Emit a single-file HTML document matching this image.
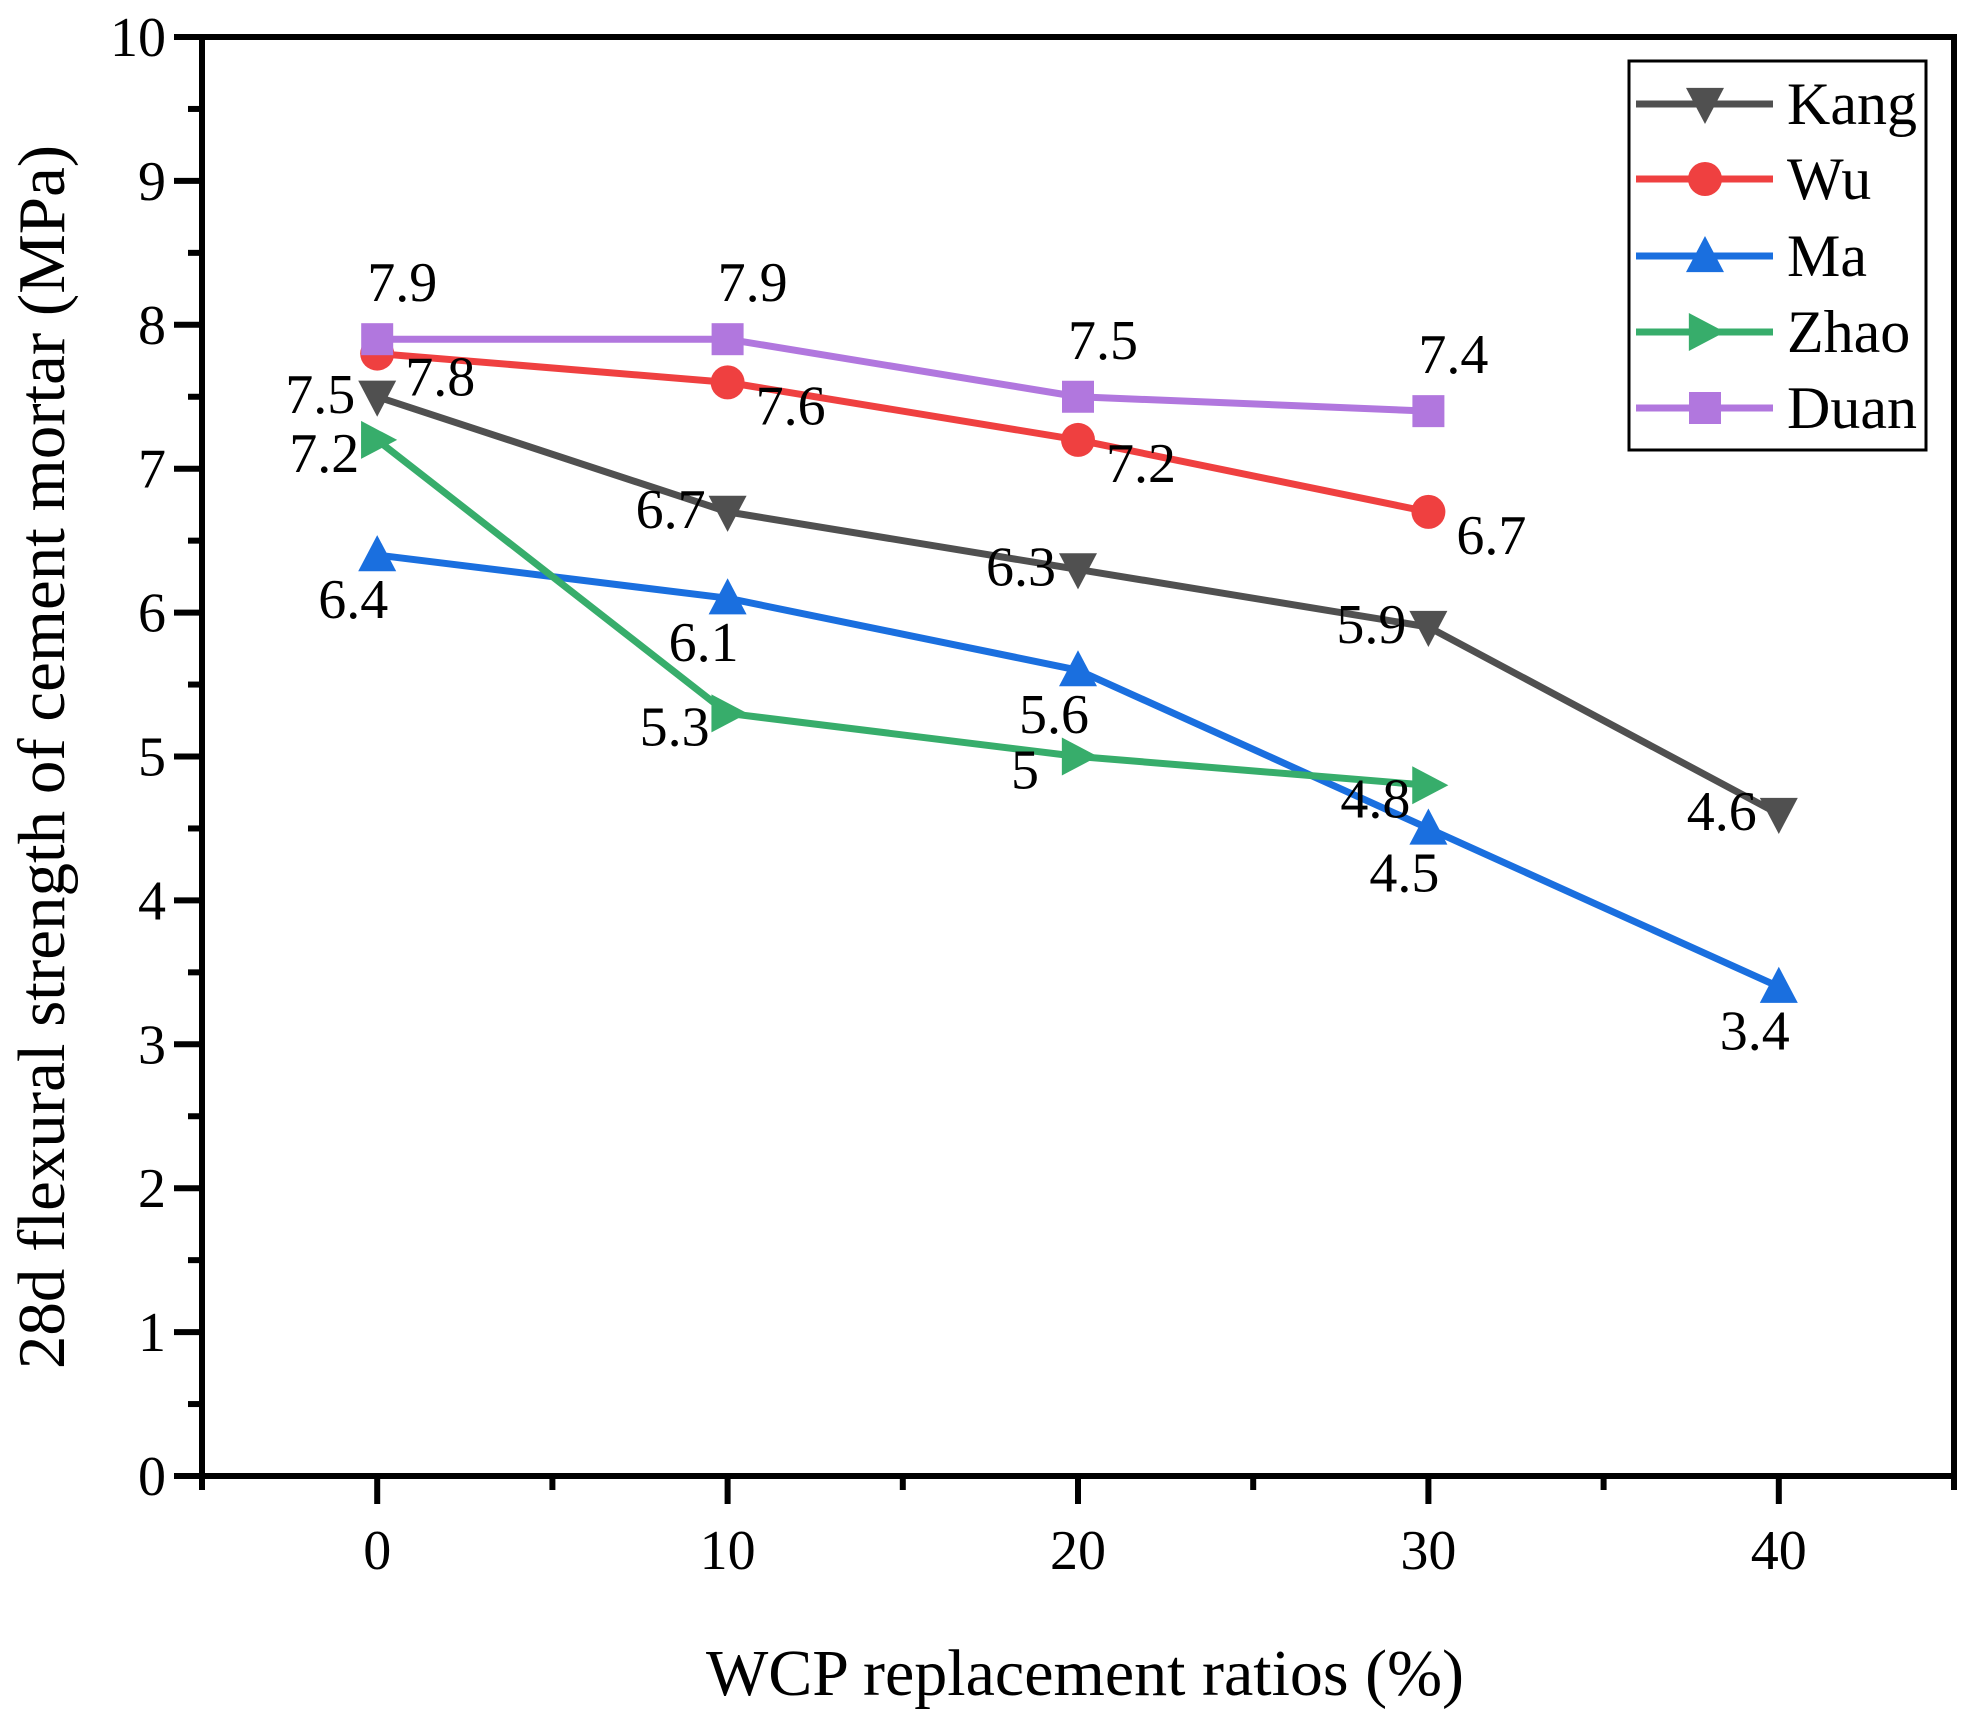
<!DOCTYPE html>
<html><head><meta charset="utf-8"><style>
html,body{margin:0;padding:0;background:#fff}
svg{display:block;font-family:"Liberation Serif",serif}
</style></head><body>
<svg id="chart" width="1977" height="1717" viewBox="0 0 1977 1717">
<g id="axes"></g>
<g id="series"></g>
<g id="legend"></g>
<text x="1085" y="1695" font-size="66" text-anchor="middle">WCP replacement ratios (%)</text>
<text transform="translate(64,757) rotate(-90)" font-size="67" text-anchor="middle">28d flexural strength of cement mortar (MPa)</text>
</svg>
<script>
const seriesNames = ["Kang","Wu","Ma","Zhao","Duan"];
const kangX = [0,10,20,30,40];
const kangY = [7.5,6.7,6.3,5.9,4.6];
const wuX = [0,10,20,30];
const wuY = [7.8,7.6,7.2,6.7];
const maX = [0,10,20,30,40];
const maY = [6.4,6.1,5.6,4.5,3.4];
const zhaoX = [0,10,20,30];
const zhaoY = [7.2,5.3,5.0,4.8];
const duanX = [0,10,20,30];
const duanY = [7.9,7.9,7.5,7.4];
const xTicks = [0,10,20,30,40];
const yTicks = [0,1,2,3,4,5,6,7,8,9,10];

const NS="http://www.w3.org/2000/svg";
const L=202,R=1954,T=37,B=1476;
const xmin=-5,xmax=45,ymin=0,ymax=10;
const sx=v=>L+(v-xmin)/(xmax-xmin)*(R-L);
const sy=v=>B-(v-ymin)/(ymax-ymin)*(B-T);
function mk(tag,attrs,parent){const e=document.createElementNS(NS,tag);for(const k in attrs)e.setAttribute(k,attrs[k]);parent.appendChild(e);return e;}
const axes=document.getElementById('axes');
for(let v=0;v<=10;v+=0.5){
  const major=Number.isInteger(v);
  const t=mk('line',{x1:L-(major?28:14),x2:L,y1:sy(v),y2:sy(v),stroke:'#000','stroke-width':6},axes);
  
  
}
yTicks.forEach(v=>{
  const t=mk('text',{x:L-36,y:sy(v)+19,'font-size':56,'text-anchor':'end'},axes);t.textContent=v;
  
  
});
for(let v=-5;v<=45;v+=5){
  const major=v%10===0;
  const t=mk('line',{x1:sx(v),x2:sx(v),y1:B,y2:B+(major?28:14),stroke:'#000','stroke-width':6},axes);
  
  
}
xTicks.forEach(v=>{
  const t=mk('text',{x:sx(v),y:B+93,'font-size':56,'text-anchor':'middle'},axes);t.textContent=v;
  
  
});
const frame=mk('rect',{x:L,y:T,width:R-L,height:B-T,fill:'none',stroke:'#000','stroke-width':6},axes);



function marker(type,cx,cy,color,parent){
  const s=19;
  if(type==='down') return mk('polygon',{points:`${cx-s},${cy-s*0.85} ${cx+s},${cy-s*0.85} ${cx},${cy+s*1.05}`,fill:color},parent);
  if(type==='up') return mk('polygon',{points:`${cx-s},${cy+s*0.85} ${cx+s},${cy+s*0.85} ${cx},${cy-s*1.05}`,fill:color},parent);
  if(type==='right') return mk('polygon',{points:`${cx-s*0.85},${cy-s} ${cx-s*0.85},${cy+s} ${cx+s*1.05},${cy}`,fill:color},parent);
  if(type==='circle') return mk('circle',{cx,cy,r:17,fill:color},parent);
  return mk('rect',{x:cx-16,y:cy-16,width:32,height:32,fill:color},parent);
}
const defs=[
  {name:'kang',xs:kangX,ys:kangY,color:'#505050',m:'down',dx:-57,dy:-3},
  {name:'wu',xs:wuX,ys:wuY,color:'#EF4040',m:'circle',dx:63,dy:23},
  {name:'ma',xs:maX,ys:maY,color:'#1A6FDF',m:'up',dx:-24,dy:44},
  {name:'zhao',xs:zhaoX,ys:zhaoY,color:'#37AD6B',m:'right',dx:-53,dy:13},
  {name:'duan',xs:duanX,ys:duanY,color:'#B177DE',m:'square',dx:25,dy:-57}
];
const sg=document.getElementById('series');
defs.forEach(d=>{
  const g=mk('g',{},sg);
  
  
  const pts=d.xs.map((x,i)=>sx(x)+','+sy(d.ys[i])).join(' ');
  const pl=mk('polyline',{points:pts,fill:'none',stroke:d.color,'stroke-width':7,'stroke-linejoin':'round'},g);
  
  
  d.xs.forEach((x,i)=>{
    const m=marker(d.m,sx(x),sy(d.ys[i]),d.color,g);
    
    
  });
});
defs.forEach(d=>{
  d.xs.forEach((x,i)=>{
    const t=mk('text',{x:sx(x)+d.dx,y:sy(d.ys[i])+d.dy+19,'font-size':56,'text-anchor':'middle'},sg);
    t.textContent=String(d.ys[i]);
    
    
  });
});
const lg=document.getElementById('legend');
const box=mk('rect',{x:1629,y:61,width:297,height:389,fill:'#fff',stroke:'#000','stroke-width':3},lg);


const legY=[104,179,256,332,408];
defs.forEach((d,i)=>{
  const g=mk('g',{},lg);
  
  
  mk('line',{x1:1636,x2:1773,y1:legY[i],y2:legY[i],stroke:d.color,'stroke-width':7},g);
  marker(d.m,1705,legY[i],d.color,g);
  const t=mk('text',{x:1787,y:legY[i]+20,'font-size':60},g);
  t.textContent=seriesNames[i];
});
</script>
</body></html>
